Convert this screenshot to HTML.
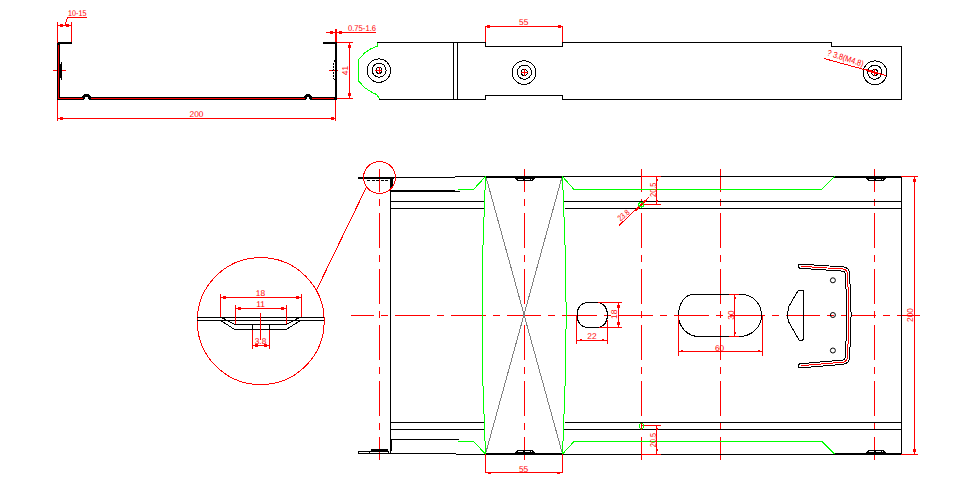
<!DOCTYPE html>
<html><head><meta charset="utf-8">
<style>
html,body{margin:0;padding:0;background:#fff;width:978px;height:490px;overflow:hidden}
svg{display:block}
path,circle,rect{shape-rendering:crispEdges}
text{text-rendering:geometricPrecision}
text{font-family:"Liberation Sans",sans-serif;fill:#f00;font-size:8.4px}
.r{stroke:#f00;stroke-width:1;fill:none}
.k{stroke:#000;stroke-width:1;fill:none}
.g{stroke:#0f0;stroke-width:1;fill:none}
.gy{stroke:#808080;stroke-width:1;fill:none}
.cv{stroke:#f00;stroke-width:1;fill:none;stroke-dasharray:34.8 7 7 7;stroke-dashoffset:11.4}
.ch{stroke:#f00;stroke-width:1;fill:none;stroke-dasharray:34.8 7 7 7;stroke-dashoffset:11.8}
.d{fill:#f00}
</style></head><body>
<svg width="978" height="490" viewBox="0 0 978 490">

<!-- ===== Section A: C profile ===== -->
<g id="profile">
  <path class="r" d="M57.5,22V121 M71.5,22V42 M335.5,29V121 M336.5,29V42"/>
  <!-- 10-15 -->
  <path class="r" d="M57,25.5H72 M65,25L67.5,17.5H87"/>
  <rect class="d" x="60" y="24" width="3" height="3"/>
  <rect class="d" x="66" y="24" width="3" height="3"/>
  <text x="68" y="16" textLength="18.5" lengthAdjust="spacingAndGlyphs">10-15</text>
  <!-- 0.75-1.6 -->
  <path class="r" d="M326,32.5H376"/>
  <rect class="d" x="330" y="31" width="3" height="3"/>
  <rect class="d" x="339" y="31" width="3" height="3"/>
  <text x="348" y="31" font-size="7.8" textLength="28" lengthAdjust="spacingAndGlyphs">0.75-1.6</text>
  <!-- 41 -->
  <path class="r" d="M336,42.5H353 M336,98.5H353 M349.5,42V99"/>
  <rect class="d" x="348" y="45" width="3" height="3"/>
  <rect class="d" x="348" y="93" width="3" height="3"/>
  <text transform="translate(348.3,70.5) rotate(-90)" text-anchor="middle">41</text>
  <!-- 200 -->
  <path class="r" d="M57,118.5H336"/>
  <rect class="d" x="60" y="117" width="3" height="3"/>
  <rect class="d" x="331" y="117" width="3" height="3"/>
  <text x="196.5" y="117" text-anchor="middle">200</text>
  <path class="r" d="M53,70.5H66 M329,70.5H338"/>
  <!-- body -->
  <path stroke="#000" stroke-width="2" fill="none" d="M72,43H58 M323,43H337"/>
  <path stroke="#000" stroke-width="3" fill="none" d="M58.5,43V98.5H82.8L84.5,95.9H88.5L90.2,98.5H305L306.5,95.9H309.5L311,98.5H336"/>
  <path stroke="#000" stroke-width="2" fill="none" d="M336,42V99.5"/>
  <path class="r" d="M58.5,45V98.5H82.5 M90.5,98.5H304.5 M311.5,98.5H334"/>
  <!-- wall holes -->
  <rect x="60" y="62" width="2" height="18" fill="#000"/>
  <circle cx="60.8" cy="63" r="0.7" fill="#fff"/><circle cx="60.8" cy="79" r="0.7" fill="#fff"/>
  <path class="k" d="M334.5,60.5Q331.5,70.5 334.5,80.5" stroke-width="0.8" stroke-dasharray="2 1"/>
</g>

<!-- ===== Section B: strip side ===== -->
<g id="strip">
  <path class="k" d="M377,42.5H485.5V46.5H562.5V42.5H831.5V46.5H901.5V99.5H562.5V95.5H485.5V99.5H379"/>
  <path class="k" d="M453.5,42.5V99.5 M457.5,42.5V99.5"/>
  <path class="g" d="M377.3,42.7V46.1L370.9,48.8L364.8,52.8L358.7,59.5V81.1L364.8,87.8L372.2,92.5L376.9,94.6L379.6,99.3"/>
  <!-- 55 -->
  <path class="r" d="M485.5,26V42 M562.5,26V42 M485,26.5H563"/>
  <rect class="d" x="487" y="25" width="3" height="3"/>
  <rect class="d" x="558" y="25" width="3" height="3"/>
  <text x="523.7" y="24.5" text-anchor="middle">55</text>
  <!-- holes -->
  <g class="k">
    <circle cx="378.9" cy="70.6" r="11.7"/><circle cx="379.1" cy="70.2" r="7"/><circle cx="379" cy="70.3" r="3"/>
    <circle cx="524" cy="72.6" r="11.8"/><circle cx="524.4" cy="72.2" r="7.1"/><circle cx="524.3" cy="72.4" r="3"/>
    <circle cx="875" cy="72.8" r="11.85"/><circle cx="874.7" cy="72.2" r="7.1"/><circle cx="874.8" cy="72.5" r="3"/>
  </g>
  <path class="r" d="M375,70.5H382 M379.5,67V74 M520.5,72.5H527.5 M524.5,69V76 M871,72.5H878 M874.5,69V76"/>
  <!-- note -->
  <path class="r" d="M824,58.5L886,75.5"/>
  <path d="M866,70L877,73" stroke="#f00" stroke-width="2"/>
  <text transform="translate(826.5,55) rotate(18)" font-size="7.8" textLength="38" lengthAdjust="spacingAndGlyphs">? 3.8(M4.8)</text>
</g>

<g id="plan">
  <!-- center lines -->
  <path class="ch" d="M351,315.5H920"/>
  <path class="cv" d="M379.5,169V460 M524.5,169V460 M641.5,169V460 M720.5,169V460 M874.5,169V460"/>
  <!-- gray X -->
  <path class="gy" d="M486,177L562.5,454 M562,177L485.5,454"/>
  <!-- black outline thin -->
  <path class="k" d="M392,177.5H455 M455,176.5H901 M390.5,179V453 M901.5,176V455 M455,191.5H460 M390,201.5H484 M564,201.5H901 M390,208.5H484 M565,208.5H901 M390,422.5H484 M565,422.5H901 M390,429.5H484 M564,429.5H901 M391,439.5H459 M358,453.5H456 M456,454.5H901 M391.5,440V451"/>
  <!-- thick -->
  <path stroke="#000" stroke-width="2" fill="none" d="M358,178H394 M486,177H562 M834,177H901 M391,191H455 M391.5,179V188 M485,454H562 M834,454H901"/>
  <!-- rivets -->
  <path d="M514,178H535L532,181H517Z M865,178H886L883,181H868Z M514,453H535L532,450H517Z M865,453H886L883,450H868Z" fill="#000"/>
  <path d="M518,179.5H523 M524.5,179.5H529.5 M531,179.5H532 M869,179.5H874 M875.5,179.5H880.5 M882,179.5H883 M518,451.5H523 M524.5,451.5H529.5 M531,451.5H532 M869,451.5H874 M875.5,451.5H880.5 M882,451.5H883" stroke="#fff" stroke-width="1"/>
  <path d="M367,180.5H390" stroke="#000" stroke-width="1" stroke-dasharray="3 1.5"/>
  <path d="M371,450H388" stroke="#000" stroke-width="2"/>
  <path class="k" d="M358.5,451V454 M358,451.5H389 M369.5,451V453 M388.5,451V453"/>
  <!-- green -->
  <path class="g" d="M458,189.5H473.5L485.5,176.5 M562.5,176.5L574,189.5H821.5L834.5,176.5 M457.5,441.5H473.5L485.5,454 M562.5,454L574,441.5H821.8L834.5,454"/>
  <path class="g" d="M485.5,176V190 M484.5,190V217 M483.5,217V245 M482.5,245V386 M483.5,386V414 M484.5,414V441 M485.5,441V454 M562.5,176V190 M563.5,190V217 M564.5,217V245 M565.5,245V302 M566.5,302V329 M565.5,329V386 M564.5,386V414 M563.5,414V441 M562.5,441V454"/>
  <!-- small slot -->
  <path class="k" d="M588,302.5H597C603.5,302.5 607.5,308 607.5,315C607.5,322 603.5,327.5 597,327.5H588C581,327.5 577,322 577,315C577,308 581,302.5 588,302.5Z"/>
  <!-- big slot -->
  <path class="k" d="M693,294.5H742A19.5,21 0 0 1 761.5,315.5A22.5,21 0 0 1 739,336.5H699A20.5,21 0 0 1 678.5,315.5A14.5,21 0 0 1 693,294.5Z"/>
  <!-- triangle -->
  <path class="k" d="M798.4,290H801.4L803.5,291V339L802.7,340H799L788.6,321.8L787.4,315.6L788.6,307Z"/>
  <!-- U bracket -->
  <path d="M800.5,266.2L843,269Q847.6,269.5 847.6,275L849,315L847.6,356Q847.6,361.5 843,362.2L800.5,365.8" fill="none" stroke="#000" stroke-width="5.2" stroke-linecap="round"/>
  <path d="M800.5,266.2L843,269Q847.6,269.5 847.6,275L849,315L847.6,356Q847.6,361.5 843,362.2L800.5,365.8" fill="none" stroke="#fff" stroke-width="3.2" stroke-linecap="round"/>
  <path d="M801,266.3L843,269Q847.6,269.5 847.6,275L849,315L847.6,356Q847.6,361.5 843,362.2L801,365.7" fill="none" stroke="#f00" stroke-width="1"/>
  <g class="k" style="shape-rendering:auto" stroke-width="1.2"><circle style="shape-rendering:auto" cx="832.9" cy="280.3" r="2.5"/><circle style="shape-rendering:auto" cx="832.9" cy="315" r="2.5"/><circle style="shape-rendering:auto" cx="832.9" cy="350.5" r="2.5"/></g>
  <!-- 20.5 top -->
  <path class="r" d="M641,176.5H661 M641,204.5H661 M656.5,176V205"/>
  <rect class="d" x="656" y="179" width="2" height="2"/>
  <rect class="d" x="656" y="200" width="2" height="2"/>
  <text transform="translate(655.6,189.8) rotate(-90)" text-anchor="middle" textLength="14.3" lengthAdjust="spacingAndGlyphs">20.5</text>
  <!-- 23.8 -->
  <path class="r" d="M619,225.5L649.3,196.8"/>
  <path stroke="#f00" stroke-width="2" d="M636,210L639.5,206.7 M643.5,202.8L647,199.5"/>
  <text transform="translate(620.6,221.6) rotate(-40)" font-size="7.4" textLength="12.6" lengthAdjust="spacingAndGlyphs">23.8</text>
  <circle class="g" cx="641.2" cy="204.7" r="2.4"/>
  <!-- 20.5 bottom -->
  <path class="r" d="M641,425.5H661 M641,454.5H661 M656.5,425V455"/>
  <rect class="d" x="656" y="428" width="2" height="2"/>
  <rect class="d" x="656" y="449" width="2" height="2"/>
  <text transform="translate(655.6,440) rotate(-90)" text-anchor="middle" textLength="14.3" lengthAdjust="spacingAndGlyphs">20.5</text>
  <circle class="g" cx="641.5" cy="426" r="2.4"/><path class="r" d="M641.5,423V430"/>
  <!-- 55 bottom -->
  <path class="r" d="M485.5,454V473 M562.5,454V473 M485,472.5H563"/>
  <rect class="d" x="488" y="472" width="3" height="2"/>
  <rect class="d" x="557" y="472" width="3" height="2"/>
  <text x="523.6" y="472" text-anchor="middle">55</text>
  <!-- 22 -->
  <path class="r" d="M576.5,315V344 M607.5,320V344 M576,340.5H608"/>
  <rect class="d" x="580" y="339" width="2" height="2"/>
  <rect class="d" x="602" y="339" width="2" height="2"/>
  <text x="592" y="339" text-anchor="middle">22</text>
  <!-- 18 -->
  <path class="r" d="M598,302.5H622 M599,327.5H622 M618.5,302V328"/>
  <rect class="d" x="617" y="305" width="3" height="3"/>
  <rect class="d" x="617" y="322" width="3" height="3"/>
  <text transform="translate(616.6,314.3) rotate(-90)" text-anchor="middle">18</text>
  <!-- 60 -->
  <path class="r" d="M678.5,315V356 M762.5,315V356 M678,351.5H763"/>
  <rect class="d" x="681" y="350" width="2" height="2"/>
  <rect class="d" x="758" y="350" width="2" height="2"/>
  <text x="719.6" y="350.7" text-anchor="middle">60</text>
  <!-- 30 -->
  <path class="r" d="M729,294.5H739 M729,336.5H739 M734.5,294V337"/>
  <rect class="d" x="734" y="297" width="2" height="2"/>
  <rect class="d" x="734" y="332" width="2" height="2"/>
  <text transform="translate(733.8,315) rotate(-90)" text-anchor="middle">30</text>
  <!-- 200 -->
  <path class="r" d="M901,176.5H918 M901,454.5H918 M914.5,176V455"/>
  <rect class="d" x="913" y="179" width="3" height="3"/>
  <rect class="d" x="913" y="449" width="3" height="3"/>
  <text transform="translate(912.9,315) rotate(-90)" text-anchor="middle">200</text>
  <!-- marker circle + leader -->
  <circle class="r" cx="379.5" cy="177.5" r="16"/>
  <path class="r" d="M366.5,187L316.5,290"/>
</g>

<g id="detail">
  <circle class="r" cx="260.7" cy="321.1" r="63.5"/>
  <path class="k" d="M197.3,317.5H324.1 M197.2,320.5H324.2 M221.6,317.5L234.7,324.5H286.3L299.4,317.5 M220.6,320.5L234.7,329.5H286.3L300.4,320.5 M252.5,324.5V329.5 M269.5,324.5V329.5"/>
  <path class="r" d="M220.5,294V317 M301.5,294V317 M220,297.5H302 M235.5,305V324 M286.5,305V324 M235,308.5H287 M260.5,313V340 M252.5,330V349 M269.5,330V349 M252,345.5H270"/>
  <rect class="d" x="223" y="296" width="3" height="3"/>
  <rect class="d" x="296" y="296" width="3" height="3"/>
  <rect class="d" x="238" y="307" width="3" height="3"/>
  <rect class="d" x="281" y="307" width="3" height="3"/>
  <rect class="d" x="255" y="344" width="3" height="3"/>
  <rect class="d" x="264" y="344" width="3" height="3"/>
  <text x="260.5" y="296" text-anchor="middle">18</text>
  <text x="260.5" y="307" text-anchor="middle">11</text>
  <text x="260.5" y="343.6" text-anchor="middle">3.8</text>
</g>

</svg>
</body></html>
